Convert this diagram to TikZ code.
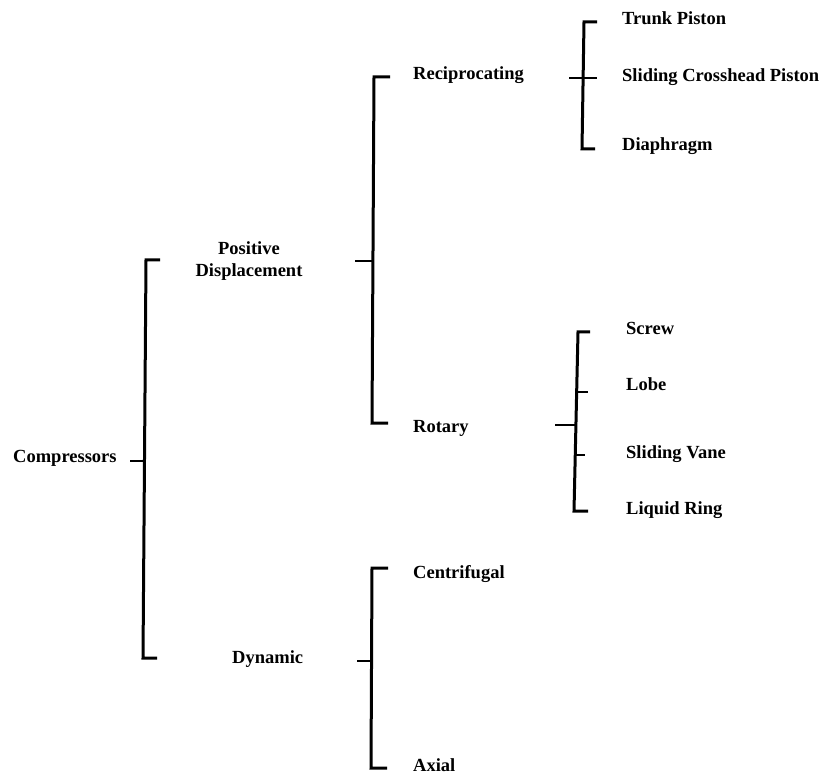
\documentclass[tikz,border=0pt]{standalone}
\usepackage{fontspec}
\setmainfont{Liberation Serif}
\begin{document}
\begin{tikzpicture}[x=1pt,y=-1pt,
  lbl/.style={font=\fontsize{18.5}{23}\selectfont\bfseries, inner sep=0pt, anchor=base west},
  spine/.style={line width=3pt, line join=miter},
  tickline/.style={line width=2.6pt}]
\useasboundingbox (0,0) rectangle (827,775);
% labels
\node[lbl] (comp) at (13,462) {Compressors};
\node[lbl, anchor=base] (pos) at (249,255) {Positive};
\node[lbl, anchor=base] (disp) at (249,277) {Displacement};
\node[lbl] (dyn) at (232,663) {Dynamic};
\node[lbl] (recip) at (413,80) {Reciprocating};
\node[lbl] (rot) at (413,432) {Rotary};
\node[lbl] (trunk) at (622,25) {Trunk Piston};
\node[lbl] (slide) at (622,82) {Sliding Crosshead Piston};
\node[lbl] (diaph) at (622,151) {Diaphragm};
\node[lbl] (screw) at (626,335) {Screw};
\node[lbl] (lobe) at (626,390) {Lobe};
\node[lbl] (vane) at (626,458) {Sliding Vane};
\node[lbl] (liq) at (626,514) {Liquid Ring};
\node[lbl] (cent) at (413,578) {Centrifugal};
\node[lbl] (axial) at (413,771) {Axial};
% bracket 1: Compressors
\coordinate (b1a) at (160,260); \coordinate (b1t) at (146,260);
\coordinate (b1b) at (143,658); \coordinate (b1e) at (157,658);
\coordinate (b1s) at (130,461); \coordinate (b1m) at (145,461);
\draw[spine] (b1a) -- (b1t) -- (b1b) -- (b1e);
\draw[tickline] (b1s) -- (b1m);
% bracket 2: Positive Displacement
\coordinate (b2a) at (390,77); \coordinate (b2t) at (374,77);
\coordinate (b2b) at (372,423); \coordinate (b2e) at (388,423);
\coordinate (b2s) at (355,261); \coordinate (b2m) at (373,261);
\draw[spine] (b2a) -- (b2t) -- (b2b) -- (b2e);
\draw[tickline] (b2s) -- (b2m);
% bracket 3: Reciprocating
\coordinate (b3a) at (597,22); \coordinate (b3t) at (584,22);
\coordinate (b3b) at (582,149); \coordinate (b3e) at (595,149);
\coordinate (b3s) at (569,78); \coordinate (b3m) at (597,78);
\draw[spine] (b3a) -- (b3t) -- (b3b) -- (b3e);
\draw[tickline] (b3s) -- (b3m);
% bracket 4: Rotary
\coordinate (b4a) at (590,332); \coordinate (b4t) at (578,332);
\coordinate (b4b) at (574,511); \coordinate (b4e) at (588,511);
\coordinate (b4s) at (555,425); \coordinate (b4m) at (576,425);
\coordinate (b4l1) at (576,392); \coordinate (b4l2) at (588,392);
\coordinate (b4v1) at (575,455); \coordinate (b4v2) at (585,455);
\draw[spine] (b4a) -- (b4t) -- (b4b) -- (b4e);
\draw[tickline] (b4s) -- (b4m);
\draw[tickline] (b4l1) -- (b4l2);
\draw[tickline] (b4v1) -- (b4v2);
% bracket 5: Dynamic
\coordinate (b5a) at (388,568); \coordinate (b5t) at (372,568);
\coordinate (b5b) at (371,768); \coordinate (b5e) at (387,768);
\coordinate (b5s) at (357,661); \coordinate (b5m) at (371,661);
\draw[spine] (b5a) -- (b5t) -- (b5b) -- (b5e);
\draw[tickline] (b5s) -- (b5m);
\end{tikzpicture}
\end{document}
